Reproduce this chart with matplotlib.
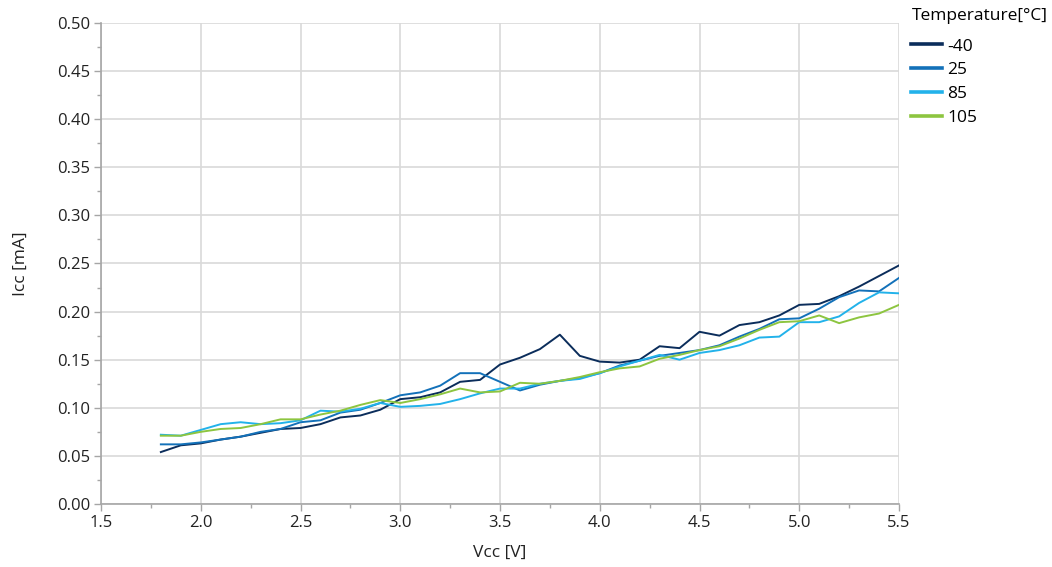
import matplotlib
matplotlib.use("Agg")
import matplotlib.pyplot as plt
from matplotlib.ticker import MultipleLocator, FormatStrFormatter

plt.rcParams['font.family'] = ['Open Sans', 'DejaVu Sans']

vcc = [1.8, 1.9, 2.0, 2.1, 2.2, 2.3, 2.4, 2.5, 2.6, 2.7, 2.8, 2.9, 3.0, 3.1, 3.2, 3.3, 3.4, 3.5, 3.6,
       3.7, 3.8, 3.9, 4.0, 4.1, 4.2, 4.3, 4.4, 4.5, 4.6, 4.7, 4.8, 4.9, 5.0, 5.1, 5.2, 5.3, 5.4, 5.5]

icc_m40 = [0.054, 0.061, 0.063, 0.067, 0.070, 0.074, 0.078,
           0.079, 0.083, 0.090, 0.092, 0.098, 0.109, 0.111,
           0.116, 0.127, 0.129, 0.145, 0.152, 0.161, 0.176,
           0.154, 0.148, 0.147, 0.150, 0.164, 0.162, 0.179,
           0.175, 0.186, 0.189, 0.196, 0.207, 0.208, 0.216,
           0.226, 0.237, 0.248]
icc_25 = [0.062, 0.062, 0.064, 0.067, 0.070, 0.075, 0.078,
          0.085, 0.087, 0.095, 0.098, 0.105, 0.113, 0.116,
          0.123, 0.136, 0.136, 0.127, 0.118, 0.124, 0.128,
          0.131, 0.136, 0.144, 0.149, 0.154, 0.157, 0.160,
          0.165, 0.174, 0.182, 0.192, 0.193, 0.203, 0.215,
          0.222, 0.221, 0.235]
icc_85 = [0.072, 0.071, 0.077, 0.083, 0.085, 0.083, 0.084,
          0.087, 0.097, 0.096, 0.099, 0.105, 0.101, 0.102,
          0.104, 0.109, 0.115, 0.120, 0.120, 0.125, 0.128,
          0.130, 0.136, 0.143, 0.149, 0.155, 0.150, 0.157,
          0.160, 0.165, 0.173, 0.174, 0.189, 0.189, 0.195,
          0.209, 0.220, 0.219]
icc_105 = [0.071, 0.071, 0.075, 0.078, 0.079, 0.083, 0.088,
           0.088, 0.093, 0.097, 0.103, 0.108, 0.105, 0.109,
           0.114, 0.120, 0.116, 0.117, 0.126, 0.125, 0.128,
           0.132, 0.137, 0.141, 0.143, 0.151, 0.155, 0.160,
           0.164, 0.172, 0.181, 0.189, 0.190, 0.196, 0.188,
           0.194, 0.198, 0.207]

series_labels = ['-40', '25', '85', '105']
series_values = [icc_m40, icc_25, icc_85, icc_105]
colors = ['#0B2D5B', '#1371B9', '#22B2EA', '#8DC540']

fig = plt.figure(figsize=(10.52, 5.67), dpi=100)
ax = fig.add_axes([101/1052, 1-504/567, (899-101)/1052, (504-23)/567])

for lab, vals, c in zip(series_labels, series_values, colors):
    ax.plot(vcc, vals, color=c, lw=1.4, label=lab, zorder=3)

ax.set_xlim(1.5, 5.5)
ax.set_ylim(0.0, 0.5)
ax.xaxis.set_major_locator(MultipleLocator(0.5))
ax.xaxis.set_minor_locator(MultipleLocator(0.25))
ax.yaxis.set_major_locator(MultipleLocator(0.05))
ax.yaxis.set_minor_locator(MultipleLocator(0.025))
ax.xaxis.set_major_formatter(FormatStrFormatter('%.1f'))
ax.yaxis.set_major_formatter(FormatStrFormatter('%.2f'))

ax.grid(True, which='major', color='#D9D9D9', lw=1.2, zorder=0)
for s in ['top', 'right']:
    ax.spines[s].set_visible(False)
for s in ['left', 'bottom']:
    ax.spines[s].set_color('#A6A6A6')
    ax.spines[s].set_linewidth(1.2)
ax.tick_params(which='major', length=5, width=1, color='#A6A6A6', labelsize=12, labelcolor='#222222', pad=3)
ax.tick_params(which='minor', length=3, width=1, color='#A6A6A6')

ax.set_xlabel('Vcc [V]', fontsize=12.5, color='#222222', labelpad=10)
ax.set_ylabel('Icc [mA]', fontsize=12.5, color='#222222', labelpad=20)

leg = fig.legend(loc='upper left', bbox_to_anchor=(908/1052, 1-5/567), frameon=False,
                 title='Temperature[°C]', fontsize=12.5, title_fontsize=12.5,
                 handlelength=1.75, handletextpad=0.3, labelspacing=0.45,
                 borderaxespad=0, borderpad=0.2)
leg._legend_box.align = 'left'
leg._legend_box.sep = 10
for h in leg.get_lines():
    h.set_linewidth(2.6)

fig.savefig('out.png', dpi=100)
